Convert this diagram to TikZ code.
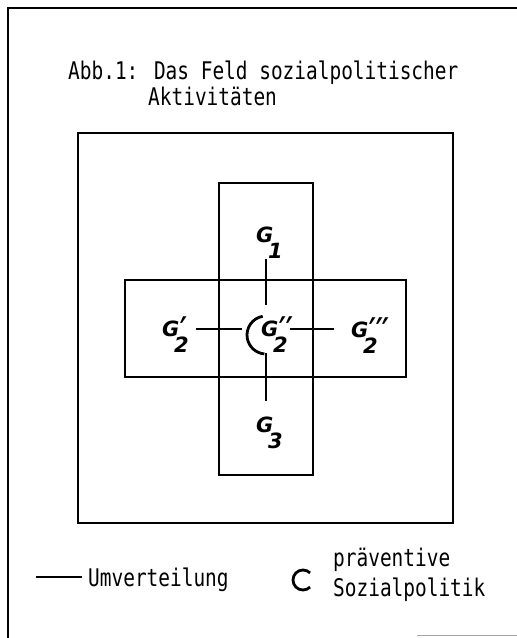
\documentclass[tikz,border=0pt]{standalone}
\usepackage{fontspec}
\usepackage{graphicx}
\newfontfamily\typefont[FakeStretch=0.8]{DejaVu Sans Mono}
\newfontfamily\gfont{DejaVu Sans}
% group symbol: G with stacked prime and index
\newcommand{\gname}[2]{{\gfont\bfseries\itshape G\kern-0.25em\raisebox{-0.75em}{#2}\kern-0.4em\raisebox{-0.3em}{\scalebox{1.2}[1.75]{#1}}}}
\begin{document}
\begin{tikzpicture}[x=1pt,y=1pt,
    box/.style={draw,line width=2.8pt},
    link/.style={line width=2.8pt},
    glabel/.style={inner sep=0pt,anchor=base west,font=\fontsize{21}{23}\selectfont},
    heading/.style={inner sep=0pt,anchor=base west,font=\typefont\fontsize{24.3}{26}\selectfont},
    legendtext/.style={inner sep=0pt,anchor=west,align=left,font=\typefont\fontsize{24.3}{30}\selectfont}]
\useasboundingbox (0,0) rectangle (517,638);
% frame
\draw[line width=2pt] (8,0) -- (8,630) -- (517,630);
\draw[line width=1pt,black!35] (417,2) -- (517,2);
% title
\node[heading] (title1) at (68,558) {Abb.1: Das Feld sozialpolitischer};
\node[heading] (title2) at (148,532) {Aktivitäten};
% fields
\draw[box] (78,115) rectangle (453,505);
\draw[box] (219,163) rectangle (313,455);
\draw[box] (125,261) rectangle (406,358);
% groups
\node[circle,minimum size=48pt,inner sep=0pt] (hub) at (266,309) {};
\node[glabel] (g1) at (256,395) {\gname{}{1}};
\node[glabel] (g2l) at (162,301) {\gname{′}{2}};
\node[glabel] (g2m) at (261,301) {\gname{′′}{2}};
\node[glabel] (g2r) at (351,300) {\gname{′′′}{2}};
\node[glabel] (g3) at (256,205) {\gname{}{3}};
\coordinate (prevc) at (266,303);
\draw[link] (prevc) ++(100:19) arc[start angle=100,end angle=265,radius=19];
\draw[link] (hub.north) -- (hub.north |- g1.south);
\draw[link,shorten >=16pt] (hub.south) -- (hub.south |- g3.north);
\draw[link,shorten >=9pt] (hub.west) -- (hub.west -| g2l.east);
\draw[link,shorten >=17pt] (hub.east) -- (hub.east -| g2r.west);
% legend
\node[legendtext] (umv) at (88,58) {Umverteilung};
\coordinate (umvstart) at (36,61);
\draw[link,shorten >=6pt] (umvstart) -- (umvstart -| umv.west);
\node[legendtext] (prav) at (333,63) {präventive\\Sozialpolitik};
\coordinate (legc) at (303,58);
\draw[link] (legc) ++(45:10) arc[start angle=45,end angle=315,radius=10];
\end{tikzpicture}
\end{document}
